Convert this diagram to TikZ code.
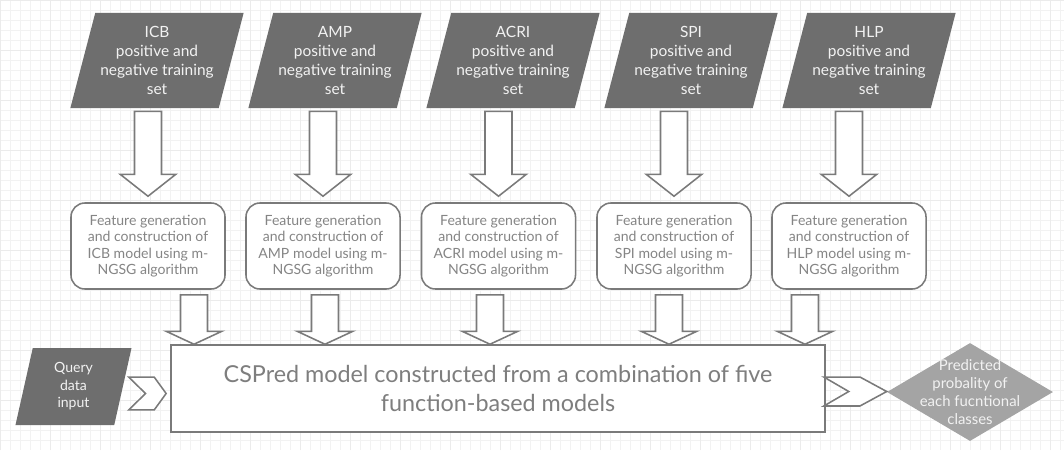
\documentclass[tikz,border=0pt]{standalone}
\usepackage{fontspec}
\setmainfont{Lato}
\usetikzlibrary{calc, positioning, shapes.geometric}
\definecolor{setgray}{HTML}{6E6E6E}
\definecolor{predgray}{HTML}{A4A4A4}
\definecolor{linegray}{HTML}{7A7A7A}
\definecolor{txtgray}{HTML}{858585}
\definecolor{lighttxt}{HTML}{F2F2F2}
\tikzset{
  minorgrid/.style={black!5, line width=0.3pt},
  majorgrid/.style={black!8, line width=0.4pt},
  conn/.style={draw=linegray, line width=1.1pt, fill=white, line join=miter},
  % inputs: dark parallelograms
  trainset/.style={trapezium, trapezium left angle=70, trapezium right angle=110,
    trapezium stretches body, fill=setgray, text=lighttxt, inner sep=0pt,
    minimum width=4.33cm, minimum height=2.375cm, align=center,
    font=\fontsize{11}{13.5}\selectfont},
  querybox/.style={trainset, minimum width=2.9cm, minimum height=1.925cm,
    font=\fontsize{10}{12.4}\selectfont},
  % one model per functional class
  modelbox/.style={draw=linegray, line width=1.1pt, rounded corners=0.35cm, fill=white,
    minimum width=3.85cm, minimum height=2.15cm, inner sep=0pt, align=center,
    text=txtgray, font=\fontsize{10}{11.6}\selectfont},
  bigbox/.style={draw=linegray, line width=1.1pt, fill=white, minimum width=16.35cm,
    minimum height=2.175cm, inner sep=0pt, align=center, text=txtgray!95!black,
    font=\fontsize{16.6}{20}\selectfont},
  % output
  predshape/.style={diamond, fill=predgray, inner sep=0pt, minimum width=4.15cm, minimum height=2.45cm},
  predtext/.style={text=lighttxt, align=center, inner sep=0pt, font=\fontsize{10.6}{13}\selectfont},
}

\begin{document}
\begin{tikzpicture}[x=0.025cm, y=-0.025cm]
  % hollow block arrow: #1 start, #2 tip (x taken from #1), #3 head length
  \newcommand\hollowarrow[3]{%
    \draw[conn] let \p1=#1, \p2=#2 in (\x1-9.6pt,\y1) -- (\x1+9.6pt,\y1) -- (\x1+9.6pt,\y2+#3)
      -- (\x1+19.8pt,\y2+#3) -- (\x1,\y2) -- (\x1-19.8pt,\y2+#3) -- (\x1-9.6pt,\y2+#3) -- cycle;
  }
  % chevron: #1 left middle, #2 tip (x only), #3 notch depth, #4 point depth, #5 half height
  \newcommand\chevron[5]{%
    \draw[conn] let \p1=#1, \p2=#2 in (\x1,\y1+#5) -- (\x2-#4,\y1+#5) -- (\x2,\y1)
      -- (\x2-#4,\y1-#5) -- (\x1,\y1-#5) -- (\x1+#3,\y1) -- cycle;
  }
  \useasboundingbox (0,0) rectangle (1064,450);
  % ---- paper grid
  \draw[minorgrid] (0,0) grid[step=0.25cm] (1064,450);
  \draw[majorgrid] (0,0) grid[step=1.25cm] (1064,450);
  % ---- five function classes
  \foreach \nm/\lbl/\sx/\bx in {icb/ICB/157/148, amp/AMP/335/323, acri/ACRI/513/498.5,
      spi/SPI/691/674, hlp/HLP/869/849} {
    \node[trainset] (\nm-set) at (\sx,60.5) {\lbl\\positive and\\negative training\\set};
    \node[modelbox] (\nm-box) at (\bx,246) {Feature generation\\and construction of\\\lbl{} model using m-\\NGSG algorithm};
  }
  % ---- combined model, query and output
  \node[bigbox] (cspred) at (498,388.5) {CSPred model constructed from a combination of five\\function-based models};
  \node[querybox] (query) at (73.5,386.5) {Query\\data\\input};
  \node[predshape] (pred) at (970,392) {};
  \node[predtext] (predlbl) at (pred.center) {Predicted\\probality of\\each fucntional\\classes};
  % ---- arrows
  \foreach \nm/\ax in {icb/194, amp/325, acri/490, spi/669, hlp/805} {
    \hollowarrow{($(\nm-box.north |- \nm-set.south)+(0,3)$)}{($(\nm-box.north)+(0,-6)$)}{15.6pt}
    \path (cspred.north) ++(\ax-498,0) coordinate (\nm-in);
    \hollowarrow{($(\nm-in |- \nm-box.south)+(0,5)$)}{(\nm-in)}{9.2pt}
  }
  \chevron{($(query.east)+(5.5,7)$)}{($(cspred.west)+(-4,0)$)}{12pt}{8.5pt}{11.7pt}
  \chevron{($(cspred.east)+(-2,3)$)}{(pred.west)}{17.7pt}{19pt}{10.3pt}
\end{tikzpicture}
\end{document}
